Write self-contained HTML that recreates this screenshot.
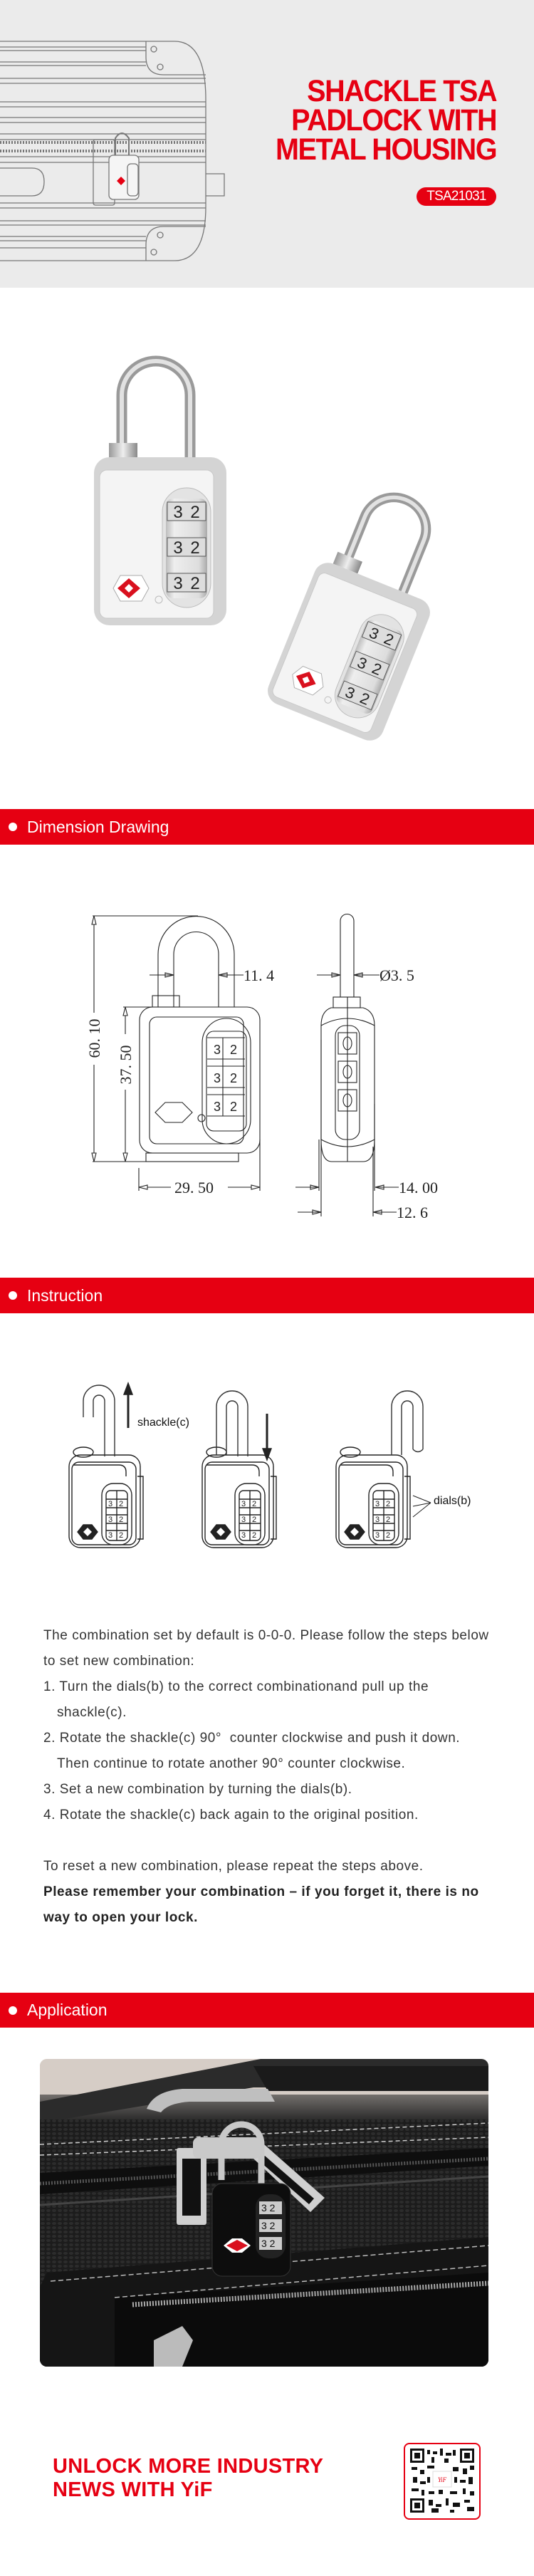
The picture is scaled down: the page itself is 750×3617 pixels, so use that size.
<!DOCTYPE html>
<html><head><meta charset="utf-8">
<style>
*{margin:0;padding:0;box-sizing:border-box}
body{width:750px;height:3617px;position:relative;background:#fff;font-family:"Liberation Sans",sans-serif;overflow:hidden}
.abs{position:absolute}
.bar{position:absolute;left:0;width:750px;background:#e60012;color:#fff;font-size:23px;line-height:50px;padding-left:38px}
.bar:before{content:"";position:absolute;left:12px;top:19px;width:12px;height:12px;border-radius:50%;background:#fff}
.title{position:absolute;right:53px;top:108px;text-align:right;color:#e60012;font-weight:bold;font-size:43px;line-height:41px;letter-spacing:-1.5px;transform:scaleX(0.92);transform-origin:right}
.txt{position:absolute;left:61px;top:2279px;width:690px;font-size:19px;line-height:36px;color:#333;letter-spacing:0.55px;white-space:nowrap}
.txt .in{padding-left:19px}
</style></head><body>

<div class="abs" style="left:0;top:0;width:750px;height:404px;background:#ebebeb"></div>
<svg class="abs" style="left:0;top:0" width="330" height="404" fill="none" stroke="#777" stroke-width="1.3">
<path d="M0 58 H245 Q289 58 289 140 V290 Q289 366 245 366 H0"/>
<path d="M205 58 V80 Q205 105 230 105 H289"/>
<path d="M205 366 V344 Q205 318 230 318 H289"/>
<circle cx="216" cy="69" r="4"/><circle cx="225" cy="94" r="4"/><circle cx="225" cy="330" r="4"/><circle cx="216" cy="354" r="4"/>
<path d="M0 66H205M0 71H205M0 87H205M0 92H205M0 110H289M0 117H289M0 143H289M0 150H289M0 165H289M0 172H289M0 188H289M0 196H289M0 220H289M0 228H289M0 285H289M0 292H289M0 310H289M0 316H289M0 332H205M0 338H205M0 348H205"/>
<path d="M0 200 H289 M0 212 H289" stroke-dasharray="2 2" stroke-width="4"/>
<path d="M0 236 H45 Q62 236 62 255 Q62 275 45 275 H0"/>
<path d="M289 244 H315 V275 H289"/>
<rect x="131" y="196" width="30" height="92" rx="3"/>
<rect x="153" y="218" width="42" height="62" rx="6" fill="#f5f5f5"/>
<path d="M162 218 V194 Q171 180 181 194 V218" stroke-width="2"/>
<rect x="179" y="230" width="15" height="45" rx="5"/>
<path d="M164 254 l6 -6 6 6 -6 6z" fill="#e60012" stroke="none"/>
</svg>
<div class="title">SHACKLE TSA<br>PADLOCK WITH<br>METAL HOUSING</div>
<div class="abs" style="left:585px;top:263px;width:112px;height:26px;border-radius:13px;background:#e60012;color:#fff;font-size:19px;line-height:26px;text-align:center;letter-spacing:-0.8px">TSA21031</div>

<svg class="abs" style="left:0;top:480" width="750" height="560">
<defs>
<linearGradient id="sil" x1="0" x2="1"><stop offset="0" stop-color="#bdbdbd"/><stop offset=".2" stop-color="#eee"/><stop offset=".8" stop-color="#ddd"/><stop offset="1" stop-color="#aaa"/></linearGradient>
<linearGradient id="sh" x1="0" x2="1"><stop offset="0" stop-color="#999"/><stop offset=".5" stop-color="#eee"/><stop offset="1" stop-color="#888"/></linearGradient>
<g id="plock">
<path d="M-54 -120 V-205 A48 48 0 0 1 42 -205 V-118" fill="none" stroke="#9a9a9a" stroke-width="15"/>
<path d="M-54 -120 V-205 A48 48 0 0 1 42 -205 V-118" fill="none" stroke="#e2e2e2" stroke-width="6"/>
<rect x="-72" y="-138" width="40" height="20" fill="url(#sh)"/>
<rect x="-93" y="-118" width="186" height="236" rx="22" fill="#d4d4d4"/>
<rect x="-85" y="-100" width="160" height="208" rx="10" fill="#f4f4f4" stroke="#c8c8c8"/>
<rect x="3" y="-75" width="68" height="168" rx="34" fill="#e3e3e3" stroke="#bbb"/>
<rect x="8" y="-60" width="58" height="140" rx="10" fill="url(#sil)"/>
<g font-family="Liberation Sans" font-size="24" fill="#222" text-anchor="middle">
<rect x="10" y="-55" width="54" height="26" fill="#ddd" stroke="#555"/><text x="25" y="-33">3</text><text x="49" y="-33">2</text>
<rect x="10" y="-5" width="54" height="26" fill="#ddd" stroke="#555"/><text x="25" y="17">3</text><text x="49" y="17">2</text>
<rect x="10" y="45" width="54" height="26" fill="#ddd" stroke="#555"/><text x="25" y="67">3</text><text x="49" y="67">2</text>
</g>
<path d="M-66 66 L-56 48 H-26 L-16 66 L-26 84 H-56Z" fill="#fff" stroke="#aaa"/>
<path d="M-60 66 L-44 52 L-28 66 L-44 80Z" fill="#d9101e"/>
<path d="M-44 60 L-38 66 L-44 72 L-50 66Z" fill="#fff"/>
<circle cx="-2" cy="82" r="5" fill="none" stroke="#bbb"/>
</g>
</defs>
<use href="#plock" x="225" y="280"/>
<g transform="translate(490 435) rotate(22) scale(0.93 0.9)"><use href="#plock"/></g>
</svg>

<div class="bar" style="top:1136px;height:50px">Dimension Drawing</div>

<svg class="abs" style="left:0;top:1250px" width="750" height="480" fill="none" stroke="#222" stroke-width="1.1" font-family="Liberation Serif" font-size="22">
<g transform="translate(0,-1250)">
<path d="M222 1414 V1340 A53.5 53.5 0 0 1 329 1340 V1414"/>
<path d="M244 1414 V1340 A31.5 31.5 0 0 1 307 1340 V1414"/>
<rect x="214" y="1398" width="38" height="16"/>
<rect x="196" y="1414" width="169" height="205" rx="18"/>
<rect x="210" y="1428" width="132" height="178" rx="10"/>
<rect x="284" y="1430" width="68" height="176" rx="34"/>
<rect x="290" y="1448" width="56" height="140" rx="10"/>
<g font-family="Liberation Sans" font-size="18" fill="#222" stroke="none">
<text x="300" y="1480">3</text><text x="323" y="1480">2</text>
<text x="300" y="1520">3</text><text x="323" y="1520">2</text>
<text x="300" y="1560">3</text><text x="323" y="1560">2</text>
</g>
<path d="M291 1457H344M291 1487H344M291 1497H344M291 1527H344M291 1537H344M291 1567H344M313 1457V1567"/>
<path d="M218 1562 L232 1548 H256 L270 1562 L256 1576 H232Z"/>
<circle cx="283" cy="1570" r="5"/>
<rect x="205" y="1619" width="130" height="12"/>
<path d="M130 1286 H278 M130 1631 H205 M173 1414 H214"/>
<path d="M132 1286 V1422 M132 1495 V1631 M176 1414 V1452 M176 1530 V1631"/>
<path d="M132 1286 l-3 12 h6z M132 1631 l-3 -12 h6z M176 1414 l-3 12 h6z M176 1631 l-3 -12 h6z" fill="#fff"/>
<path d="M195 1640 V1672 M365 1600 V1672 M195 1667 H240 M320 1667 H365"/>
<path d="M195 1667 l12 -3 v6z M365 1667 l-12 -3 v6z" fill="#fff"/>
<path d="M210 1369 H244 M307 1369 H342 M244 1369 l-12 -3 v6z M307 1369 l12 -3 v6z"/>
<g fill="#222" stroke="none">
<text x="342" y="1377">11. 4</text>
<text x="245" y="1675">29. 50</text>
<text transform="translate(140 1458) rotate(-90)" text-anchor="middle">60. 10</text>
<text transform="translate(184 1495) rotate(-90)" text-anchor="middle">37. 50</text>
</g>
<path d="M478 1400 V1293 A9.5 9.5 0 0 1 497 1293 V1400"/>
<rect x="468" y="1400" width="38" height="15"/>
<path d="M465 1415 H510 Q526 1420 526 1440 V1600 Q526 1631 510 1631 H466 Q451 1631 451 1600 V1440 Q451 1420 465 1415Z"/>
<path d="M451 1440 Q488 1420 526 1440 M451 1600 Q488 1620 526 1600"/>
<rect x="471" y="1440" width="34" height="160" rx="14"/>
<rect x="475" y="1450" width="26" height="30"/><rect x="475" y="1490" width="26" height="30"/><rect x="475" y="1530" width="26" height="30"/>
<ellipse cx="488" cy="1465" rx="6" ry="9"/><ellipse cx="488" cy="1505" rx="6" ry="9"/><ellipse cx="488" cy="1545" rx="6" ry="9"/>
<path d="M488 1400 V1631 M451 1460 V1700 M526 1550 V1672 M448 1600 V1672 M524 1610 V1708 M451 1640 V1708"/>
<path d="M445 1369 H478 M497 1369 H533 M478 1369 l-12 -3 v6z M497 1369 l12 -3 v6z"/>
<path d="M415 1667 H448 M527 1667 H560 M448 1667 l-12 -3 v6z M527 1667 l12 -3 v6z"/>
<path d="M418 1702 H451 M524 1702 H557 M451 1702 l-12 -3 v6z M524 1702 l12 -3 v6z"/>
<g fill="#222" stroke="none">
<text x="533" y="1377">Ø3. 5</text>
<text x="560" y="1675">14. 00</text>
<text x="557" y="1710">12. 6</text>
</g>
</g>
</svg>

<div class="bar" style="top:1794px;height:50px">Instruction</div>

<svg class="abs" style="left:0;top:1930px" width="750" height="260" fill="none" stroke="#222" stroke-width="1.4">
<defs>
<g id="ilock">
<rect x="0" y="0" width="100" height="130" rx="16" fill="#fff"/>
<path d="M6 14 H70 Q80 14 80 24 V30" />
<rect x="4" y="10" width="90" height="116" rx="10"/>
<rect x="46" y="40" width="42" height="86" rx="16" fill="#fff"/>
<rect x="52" y="50" width="30" height="70" rx="6"/>
<path d="M52 62H82M52 74H82M52 84H82M52 96H82M52 106H82M67 50V120"/>
<g font-family="Liberation Sans" font-size="11" fill="#222" stroke="none"><text x="55" y="72">3</text><text x="70" y="72">2</text><text x="55" y="94">3</text><text x="70" y="94">2</text><text x="55" y="116">3</text><text x="70" y="116">2</text></g>
<path d="M96 30 H104 V118 H96" />
<path d="M12 108 L20 98 H32 L40 108 L32 118 H20Z" fill="#222"/>
<path d="M20 108 L26 102 L32 108 L26 114Z" fill="#fff" stroke="none"/>
<ellipse cx="20" cy="-4" rx="14" ry="7"/>
</g>
</defs>
<use href="#ilock" x="97" y="113"/>
<path d="M117 60 V37 A22 22 0 0 1 161 37 V115 M131 60 V37 A8 8 0 0 1 147 37 V115" stroke="#333"/>
<path d="M180 75 V25" stroke-width="3"/><path d="M180 12 l-6 16 h12z" fill="#222"/>
<use href="#ilock" x="284" y="113"/>
<path d="M304 113 V45 A22 22 0 0 1 348 45 V115 M318 113 V45 A8 8 0 0 1 334 45 V115" stroke="#333"/>
<path d="M375 55 V105" stroke-width="3"/><path d="M375 120 l-6 -16 h12z" fill="#222"/>
<use href="#ilock" x="472" y="113"/>
<path d="M550 113 V45 A22 22 0 0 1 594 45 V105 M564 113 V45 A8 8 0 0 1 580 45 V105 M580 105 Q587 112 594 105" stroke="#333"/>
<path d="M580 185 L605 180 M580 170 L605 180 M580 200 L605 180" stroke-width="1"/>
</svg>
<div class="abs" style="left:193px;top:1989px;font-size:16px;color:#111">shackle(c)</div>
<div class="abs" style="left:609px;top:2099px;font-size:16px;color:#111">dials(b)</div>

<div class="txt">
The combination set by default is 0-0-0. Please follow the steps below<br>
to set new combination:<br>
1. Turn the dials(b) to the correct combinationand pull up the<br>
<span class="in">shackle(c).</span><br>
2. Rotate the shackle(c) 90° &nbsp;counter clockwise and push it down.<br>
<span class="in">Then continue to rotate another 90° counter clockwise.</span><br>
3. Set a new combination by turning the dials(b).<br>
4. Rotate the shackle(c) back again to the original position.<br>
<br>
To reset a new combination, please repeat the steps above.<br>
<b style="color:#222">Please remember your combination – if you forget it, there is no<br>
way to open your lock.</b>
</div>

<div class="bar" style="top:2798px;height:49px;line-height:49px">Application</div>

<svg class="abs" style="left:56px;top:2891px;border-radius:10px" width="630" height="432">
<defs>
<linearGradient id="bg" x1="0" y1="0" x2="0" y2="1"><stop offset="0" stop-color="#d9cfc8"/><stop offset=".2" stop-color="#2a2a2a"/><stop offset="1" stop-color="#121212"/></linearGradient>
<pattern id="mesh" width="8" height="6" patternUnits="userSpaceOnUse"><rect width="8" height="6" fill="#1c1c1c"/><ellipse cx="4" cy="3" rx="3" ry="2" fill="#2c2c2c"/></pattern>
</defs>
<rect width="630" height="432" fill="url(#bg)"/>
<rect x="0" y="0" width="630" height="50" fill="#d6cdc6"/>
<path d="M0 90 L300 40 H630 V0 H310 L0 60Z" fill="#2b2b2b"/>
<path d="M300 10 H630 V45 H320Z" fill="#1a1a1a"/>
<path d="M150 70 Q160 45 200 42 H320 L330 60 H210 Q180 62 170 75Z" fill="#bfbfbf"/>
<rect x="0" y="85" width="630" height="340" fill="url(#mesh)"/>
<path d="M0 120 L630 90 M0 135 L630 110" stroke="#ccc" stroke-width="1.5" stroke-dasharray="6 4"/>
<path d="M0 160 L630 125 L630 150 L0 190Z" fill="#0e0e0e"/>
<path d="M0 175 L630 140" stroke="#555" stroke-width="5" stroke-dasharray="2 2"/>
<path d="M0 205 L630 165" stroke="#444" stroke-width="3"/>
<path d="M10 300 L630 250 V432 H0 V320Z" fill="#151515"/>
<path d="M15 312 L630 262" stroke="#bbb" stroke-width="1.5" stroke-dasharray="7 4"/>
<path d="M105 335 L630 300 V432 H105Z" fill="#0b0b0b"/>
<path d="M130 345 L630 315" stroke="#aaa" stroke-width="7" stroke-dasharray="2 2"/>
<path d="M105 335 L630 290" stroke="#bbb" stroke-width="1.5" stroke-dasharray="7 4"/>
<rect x="192" y="125" width="42" height="108" rx="3" fill="#d0d0d0"/><rect x="200" y="140" width="26" height="80" fill="#111"/>
<path d="M315 120 L400 195 L380 215 L300 140Z" fill="#d0d0d0"/><path d="M316 136 L385 196 L378 204 L310 145Z" fill="#111"/>
<path d="M255 170 V120 A28 28 0 0 1 311 120 V175" stroke="#c8c8c8" stroke-width="9" fill="none"/>
<rect x="215" y="110" width="95" height="30" rx="8" fill="#c9c9c9"/>
<rect x="242" y="175" width="110" height="130" rx="14" fill="#0d0d0d" stroke="#333"/>
<rect x="303" y="190" width="42" height="90" rx="18" fill="#222"/>
<g font-size="14" font-family="Liberation Sans" fill="#111"><rect x="308" y="200" width="32" height="18" fill="#ccc"/><text x="311" y="214">3 2</text><rect x="308" y="225" width="32" height="18" fill="#ccc"/><text x="311" y="239">3 2</text><rect x="308" y="250" width="32" height="18" fill="#ccc"/><text x="311" y="264">3 2</text></g>
<path d="M258 262 L270 252 H284 L296 262 L284 272 H270Z" fill="#fff"/><path d="M262 262 L277 254 L292 262 L277 270Z" fill="#d9101e"/>
<path d="M160 395 L200 375 L215 395 L200 432 H160Z" fill="#bbb"/>
</svg>

<div class="abs" style="left:74px;top:3447px;color:#e60012;font-weight:bold;font-size:29px;line-height:33px;letter-spacing:0.3px">UNLOCK MORE INDUSTRY<br>NEWS WITH YiF</div>
<div class="abs" style="left:567px;top:3430px;width:108px;height:108px;border:2px solid #e60012;border-radius:8px;background:#fff"></div>
<svg class="abs" style="left:576px;top:3438px" width="90" height="90">
<rect width="90" height="90" fill="#fff"/>
<g fill="#111">
<rect x="0" y="0" width="20" height="20"/><rect x="70" y="0" width="20" height="20"/><rect x="0" y="70" width="20" height="20"/>
<rect x="24" y="2" width="4" height="6"/><rect x="32" y="4" width="6" height="4"/><rect x="42" y="0" width="4" height="10"/><rect x="50" y="6" width="8" height="4"/><rect x="60" y="2" width="4" height="8"/>
<rect x="2" y="26" width="8" height="4"/><rect x="14" y="30" width="6" height="6"/><rect x="24" y="24" width="10" height="4"/><rect x="60" y="26" width="8" height="6"/><rect x="74" y="28" width="6" height="8"/><rect x="84" y="24" width="6" height="6"/>
<rect x="4" y="40" width="6" height="8"/><rect x="14" y="46" width="8" height="4"/><rect x="70" y="44" width="8" height="4"/><rect x="82" y="40" width="6" height="10"/>
<rect x="2" y="56" width="10" height="4"/><rect x="16" y="58" width="4" height="8"/><rect x="26" y="60" width="8" height="4"/><rect x="40" y="58" width="6" height="6"/><rect x="56" y="60" width="10" height="4"/><rect x="74" y="56" width="4" height="8"/><rect x="84" y="60" width="6" height="6"/>
<rect x="26" y="72" width="6" height="8"/><rect x="36" y="78" width="8" height="4"/><rect x="50" y="70" width="4" height="10"/><rect x="60" y="76" width="10" height="6"/><rect x="76" y="72" width="8" height="4"/><rect x="80" y="82" width="10" height="6"/><rect x="30" y="84" width="10" height="6"/><rect x="56" y="86" width="6" height="4"/>
<rect x="30" y="12" width="4" height="8"/><rect x="48" y="14" width="6" height="6"/><rect x="24" y="40" width="4" height="8"/><rect x="62" y="40" width="4" height="8"/>
</g>
<g fill="#fff"><rect x="3" y="3" width="14" height="14"/><rect x="73" y="3" width="14" height="14"/><rect x="3" y="73" width="14" height="14"/></g>
<g fill="#111"><rect x="6" y="6" width="8" height="8"/><rect x="76" y="6" width="8" height="8"/><rect x="6" y="76" width="8" height="8"/></g>
<rect x="32" y="32" width="26" height="22" fill="#fff" stroke="#ddd"/>
<text x="45" y="47" font-size="9" fill="#e60012" font-style="italic" font-family="Liberation Serif" text-anchor="middle">YiF</text>
</svg>
</body></html>
